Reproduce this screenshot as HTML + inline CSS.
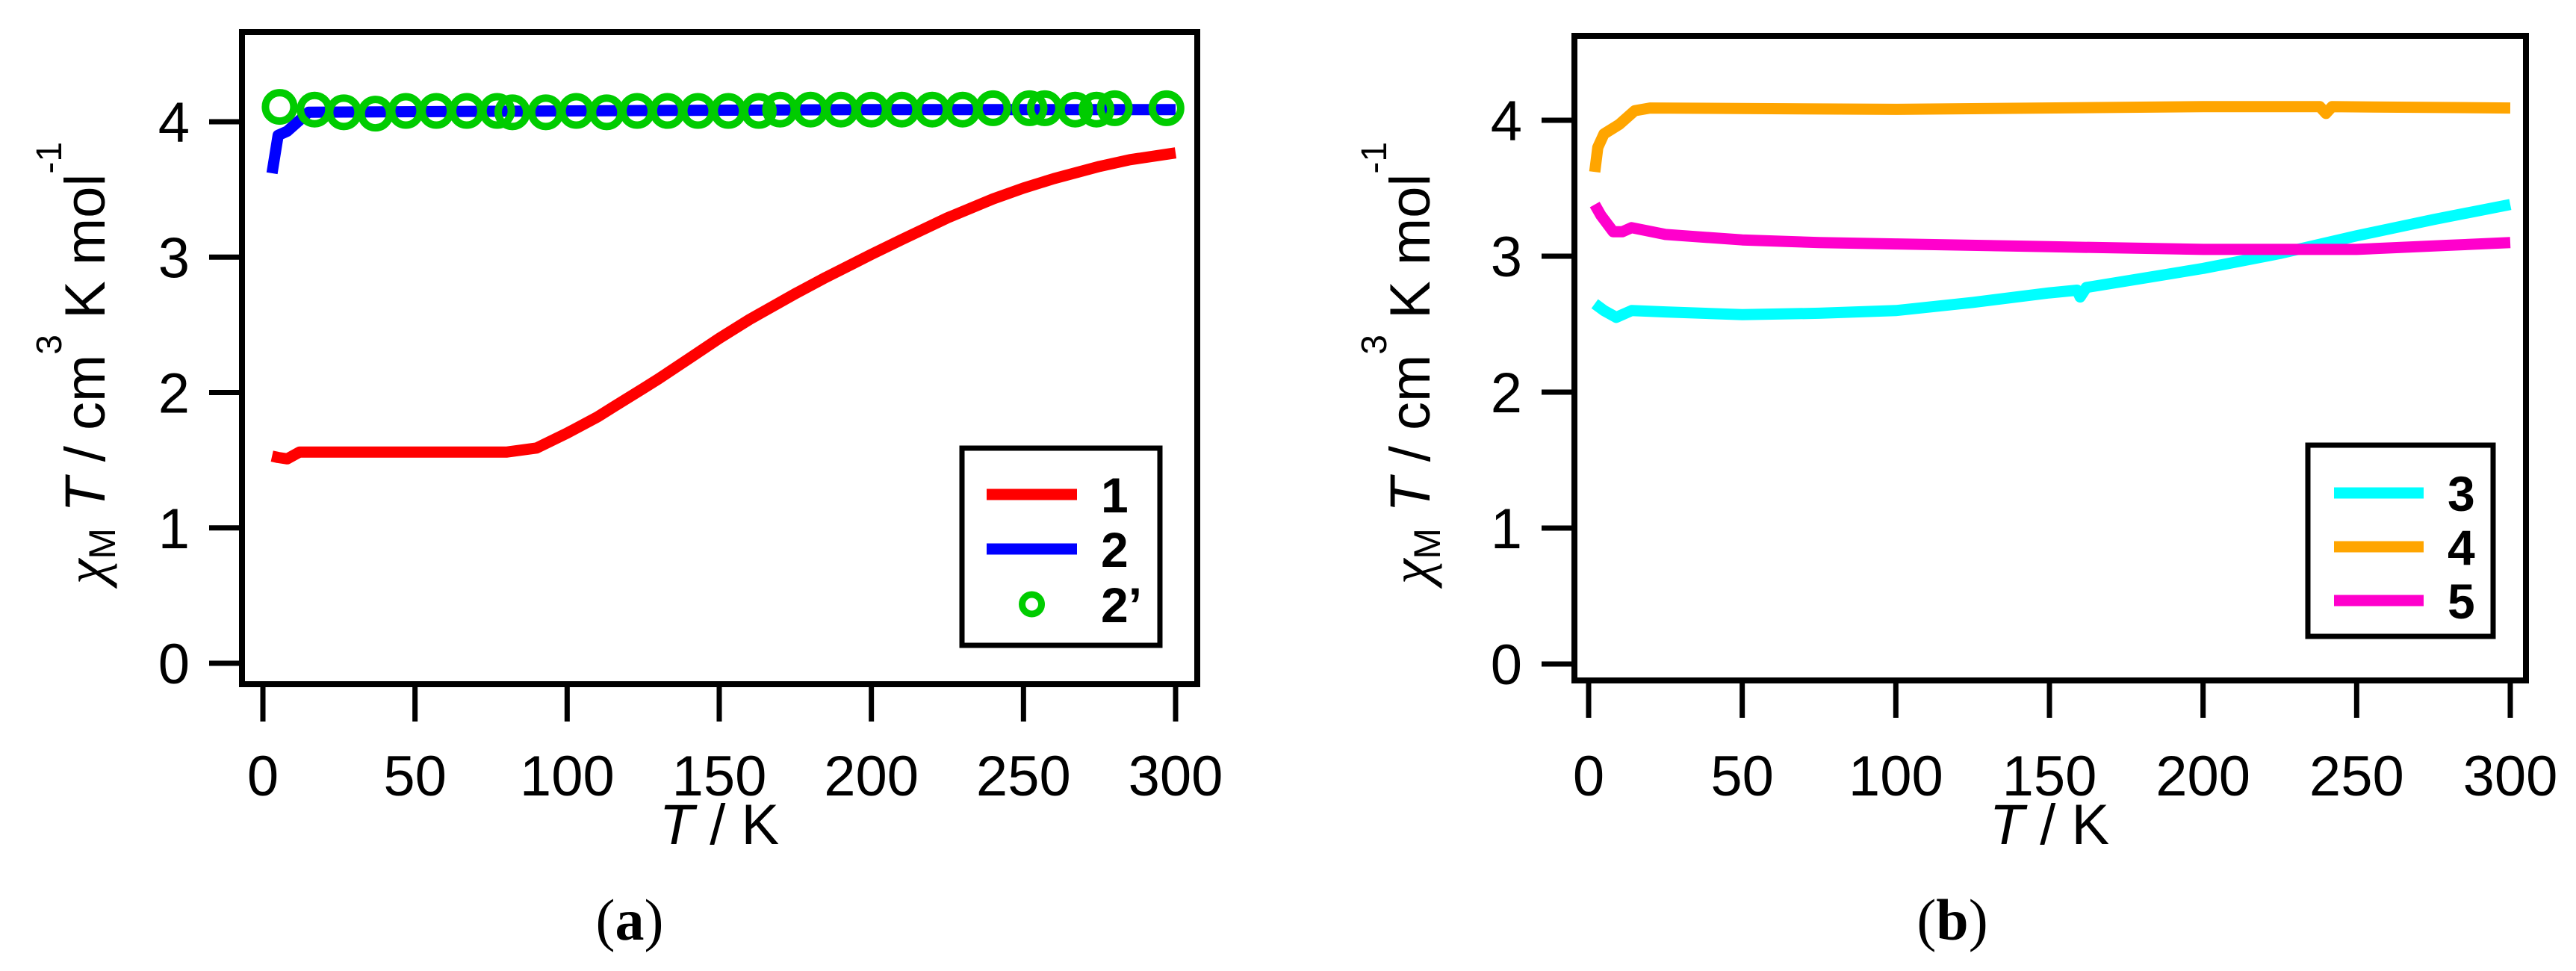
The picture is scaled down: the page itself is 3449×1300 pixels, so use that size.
<!DOCTYPE html>
<html><head><meta charset="utf-8"><style>
html,body{margin:0;padding:0;background:#fff;}
svg{display:block;font-family:"Liberation Sans",Arial,sans-serif;}
</style></head><body>
<svg id="fig" width="3449" height="1300" viewBox="0 0 3449 1300" xmlns="http://www.w3.org/2000/svg"></svg>
<script>
// ---- data, panel (a)
const xTicks = [0, 50, 100, 150, 200, 250, 300];
const yTicks = [0, 1, 2, 3, 4];
const s1T = [3, 5, 8, 12, 20, 50, 80, 90, 100, 110, 115, 125, 130, 140, 150, 160, 175, 185, 200, 210, 225, 240, 250, 260, 275, 285, 300];
const s1V = [1.53, 1.52, 1.51, 1.56, 1.56, 1.56, 1.56, 1.59, 1.70, 1.82, 1.89, 2.03, 2.10, 2.25, 2.40, 2.54, 2.73, 2.85, 3.02, 3.13, 3.29, 3.43, 3.51, 3.58, 3.67, 3.72, 3.77];
const s2T = [3, 5, 8, 15, 100, 200, 300];
const s2V = [3.62, 3.90, 3.93, 4.07, 4.08, 4.09, 4.09];
const s2pT = [5.5, 17, 26.6, 37, 47, 57, 67, 77, 82, 93, 103, 113, 123, 133, 143, 153, 163, 170, 180, 190, 200, 210, 220, 230, 240, 252, 257, 267, 274, 280, 297];
const s2pV = [4.11, 4.09, 4.07, 4.06, 4.08, 4.08, 4.08, 4.08, 4.07, 4.07, 4.08, 4.07, 4.08, 4.08, 4.08, 4.08, 4.08, 4.09, 4.09, 4.09, 4.09, 4.09, 4.09, 4.09, 4.10, 4.10, 4.10, 4.09, 4.09, 4.10, 4.10];
// ---- data, panel (b)
const s3T = [2, 5, 9, 14, 25, 50, 75, 100, 125, 150, 159, 160, 162, 200, 225, 250, 275, 300];
const s3V = [2.65, 2.60, 2.55, 2.60, 2.59, 2.57, 2.58, 2.60, 2.66, 2.73, 2.75, 2.70, 2.77, 2.91, 3.02, 3.15, 3.27, 3.38];
const s4T = [2, 3, 5, 10, 15, 20, 100, 200, 238, 240, 242, 300];
const s4V = [3.62, 3.80, 3.90, 3.97, 4.07, 4.09, 4.08, 4.10, 4.10, 4.05, 4.10, 4.09];
const s5T = [2, 4, 8, 11, 14, 25, 50, 75, 100, 150, 200, 250, 280, 300];
const s5V = [3.38, 3.30, 3.18, 3.18, 3.21, 3.16, 3.12, 3.10, 3.09, 3.07, 3.05, 3.05, 3.08, 3.10];

const NS = "http://www.w3.org/2000/svg";
const svg = document.getElementById('fig');
function mk(tag, attrs, parent){const e=document.createElementNS(NS,tag);for(const k in attrs)e.setAttribute(k,attrs[k]);(parent||svg).appendChild(e);return e;}

function panel(P){
  const g = mk('g',{});
  
  
  const sx = t => P.x0 + (t/300)*(P.x300-P.x0);
  const sy = v => P.y0 - v*(P.y0-P.y4)/4;
  P.series.forEach(s=>{
    const pts = s.T.map((t,i)=>sx(t).toFixed(1)+','+sy(s.V[i]).toFixed(1)).join(' ');
    const pl = mk('polyline',{points:pts,fill:'none',stroke:s.color,'stroke-width':15,'stroke-linejoin':'round','stroke-linecap':'butt'},g);
    
    
  });
  if(P.markers){
    const mg = mk('g',{},g);
    
    
    P.markers.T.forEach((t,i)=>{
      const c = mk('circle',{cx:sx(t),cy:sy(P.markers.V[i]),r:19,fill:'none',stroke:'#00cc00','stroke-width':10},mg);
      
      
    });
  }
  const fr = mk('rect',{x:P.fl,y:P.ft,width:P.fr-P.fl,height:P.fb-P.ft,fill:'none',stroke:'#000','stroke-width':8},g);
  
  
  yTicks.forEach(v=>{
    const y=sy(v);
    const tk = mk('line',{x1:P.fl-44,x2:P.fl,y1:y,y2:y,stroke:'#000','stroke-width':7},g);
    
    
    const tx = mk('text',{x:P.fl-70,y:y+27,'text-anchor':'end','font-size':76},g);
    tx.textContent = v;
    
    
  });
  xTicks.forEach(t=>{
    const x=sx(t);
    const tk = mk('line',{x1:x,x2:x,y1:P.fb,y2:P.fb+50,stroke:'#000','stroke-width':7},g);
    
    
    const tx = mk('text',{x:x,y:1065,'text-anchor':'middle','font-size':76},g);
    tx.textContent = t;
    
    
  });
  const xt = mk('text',{x:(P.x0+P.x300)/2,y:1130,'text-anchor':'middle','font-size':76},g);
  xt.innerHTML = '<tspan font-style="italic">T</tspan> / K';
  
  
  const yt = mk('text',{x:0,y:0,'text-anchor':'middle','font-size':76,transform:'translate('+P.ylx+',486) rotate(-90)'},g);
  yt.innerHTML = '<tspan font-family="Liberation Serif" font-style="italic">χ</tspan><tspan font-size="50" dy="14">M</tspan><tspan dy="-14" font-style="italic"> T</tspan> / cm<tspan font-size="48" dy="-58">3</tspan><tspan dy="58"> K mol</tspan><tspan font-size="48" dy="-58">-1</tspan>';
  
  
  const L = P.legend;
  const lg = mk('g',{},g);
  
  
  const lb = mk('rect',{x:L.x,y:L.y,width:L.w,height:L.h,fill:'#fff',stroke:'#000','stroke-width':7},lg);
  
  
  L.items.forEach((it,i)=>{
    const yy = L.rows[i];
    if(it.marker){
      const c = mk('circle',{cx:(L.lx1+L.lx2)/2,cy:yy,r:13,fill:'none',stroke:'#00cc00','stroke-width':9},lg);
      
      
    } else {
      const ln = mk('line',{x1:L.lx1,x2:L.lx2,y1:yy,y2:yy,stroke:it.color,'stroke-width':15},lg);
      
      
    }
    const tx = mk('text',{x:L.tx,y:yy+24,'font-size':66,'font-weight':'bold'},lg);
    tx.textContent = it.label;
    
    
  });
  const pl = mk('text',{x:P.lx,y:1258,'text-anchor':'middle','font-size':78,'font-family':'Liberation Serif'},g);
  pl.innerHTML = '(<tspan font-weight="bold">'+P.letter+'</tspan>)';
  
  
}

panel({name:'panel-a', x0:352, x300:1574, y0:888, y4:163, fl:324, fr:1603, ft:43, fb:916, ylx:140, lx:843, letter:'a',
  series:[{id:'series-1',T:s1T,V:s1V,color:'#ff0000'},{id:'series-2',T:s2T,V:s2V,color:'#0000ff'}],
  markers:{T:s2pT,V:s2pV},
  legend:{x:1288,y:600,w:265,h:264,lx1:1321,lx2:1442,tx:1474,rows:[662,735,809],
    items:[{label:'1',color:'#ff0000'},{label:'2',color:'#0000ff'},{label:'2’',marker:true}]}
});
panel({name:'panel-b', x0:2127, x300:3361, y0:889, y4:161, fl:2108, fr:3382, ft:48, fb:911, ylx:1914, lx:2614, letter:'b',
  series:[{id:'series-3',T:s3T,V:s3V,color:'#00ffff'},{id:'series-4',T:s4T,V:s4V,color:'#ffa500'},{id:'series-5',T:s5T,V:s5V,color:'#ff00cc'}],
  legend:{x:3090,y:596,w:248,h:256,lx1:3125,lx2:3245,tx:3277,rows:[660,732,804],
    items:[{label:'3',color:'#00ffff'},{label:'4',color:'#ffa500'},{label:'5',color:'#ff00cc'}]}
});
</script>
</body></html>
